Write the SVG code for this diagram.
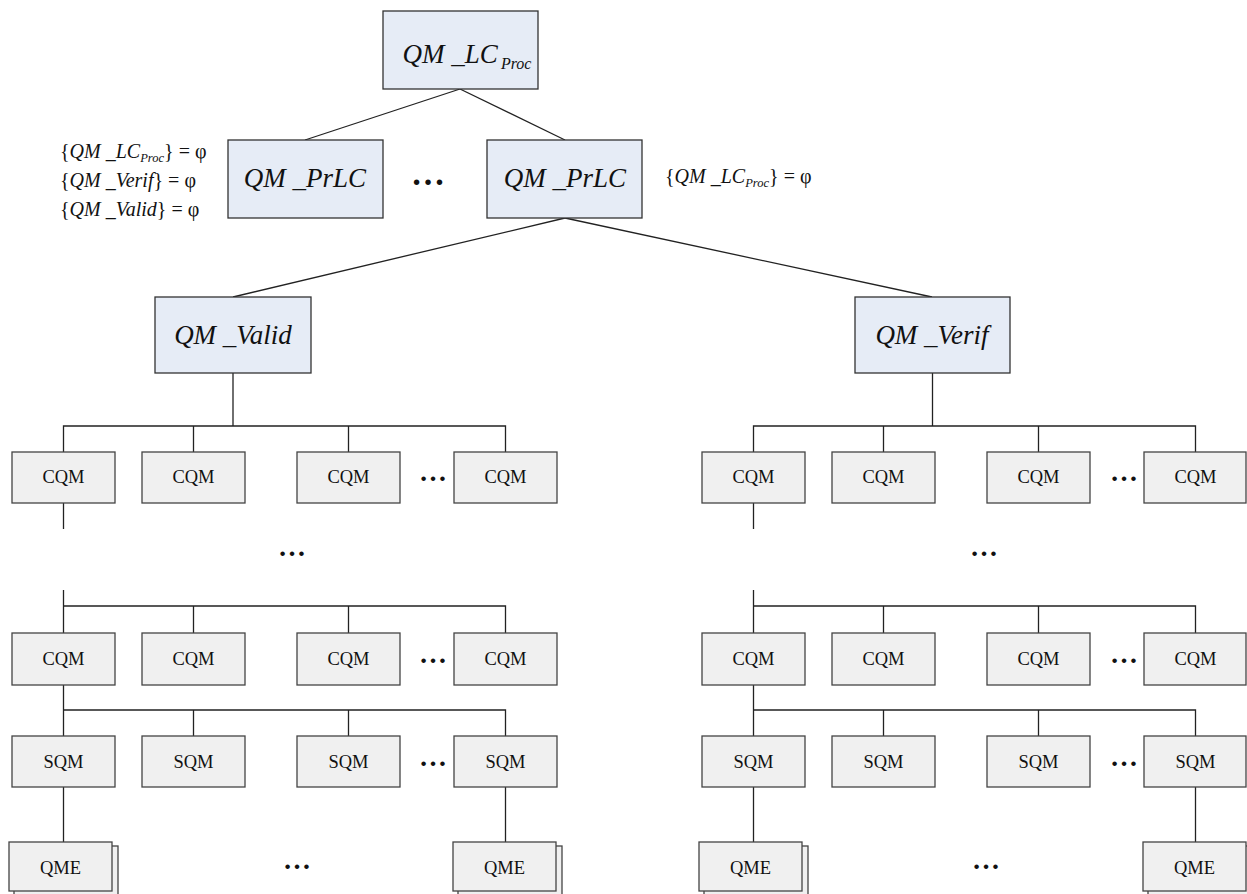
<svg xmlns="http://www.w3.org/2000/svg" width="1247" height="894" viewBox="0 0 1247 894">
<style>
.bg{fill:#ffffff}
.blue{fill:#E6ECF6;stroke:#333;stroke-width:1.3}
.gray{fill:#F0F0F0;stroke:#444;stroke-width:1.3}
.con line,.con path{stroke:#222;stroke-width:1.3;fill:none}
.math{font-family:"Liberation Serif",serif;font-style:italic;font-size:27px;fill:#111;text-anchor:middle}
.sub{font-size:16px}
.ann{font-family:"Liberation Serif",serif;font-size:20px;fill:#111}
.ann .i{font-style:italic}
.ann .s{font-style:italic;font-size:12.5px}
.lbl{font-family:"Liberation Serif",serif;font-size:18.5px;fill:#111;text-anchor:middle}
.dots{font-family:"Liberation Serif",serif;font-size:28px;font-weight:bold;fill:#111;text-anchor:middle}
</style>
<rect class="bg" width="1247" height="894"/>
<g id="connectors" class="con">
<line x1="460" y1="89" x2="305" y2="140"/>
<line x1="460" y1="89" x2="565" y2="140"/>
<line x1="565" y1="218" x2="233" y2="297"/>
<line x1="565" y1="218" x2="932" y2="297"/>
<line x1="233" y1="373" x2="233" y2="426"/>
<path d="M63.5 452V426H505.5V452M193.5 426V452M348.5 426V452"/>
<line x1="63.5" y1="503" x2="63.5" y2="529"/>
<path d="M63.5 590V633M63.5 606H505.5V633M193.5 606V633M348.5 606V633"/>
<path d="M63.5 685V736M63.5 710H505.5V736M193.5 710V736M348.5 710V736"/>
<line x1="63.5" y1="787" x2="63.5" y2="842"/>
<line x1="505.5" y1="787" x2="505.5" y2="842"/>
<line x1="932.5" y1="373" x2="932.5" y2="426"/>
<path d="M753.5 452V426H1195.5V452M883.5 426V452M1038.5 426V452"/>
<line x1="753.5" y1="503" x2="753.5" y2="529"/>
<path d="M753.5 590V633M753.5 606H1195.5V633M883.5 606V633M1038.5 606V633"/>
<path d="M753.5 685V736M753.5 710H1195.5V736M883.5 710V736M1038.5 710V736"/>
<line x1="753.5" y1="787" x2="753.5" y2="842"/>
<line x1="1195.5" y1="787" x2="1195.5" y2="842"/>
</g>
<g id="lc_proc"><rect class="blue" x="383" y="11" width="155" height="78"/><text class="math" x="467" y="63">QM _LC<tspan class="sub" dx="3" dy="6">Proc</tspan></text></g>
<g id="prlc_left"><rect class="blue" x="228" y="140" width="155" height="78"/><text class="math" x="305" y="187">QM _PrLC</text></g>
<g id="prlc_dots"><text class="dots" x="428" y="185" style="font-size:34px">…</text></g>
<g id="prlc_right"><rect class="blue" x="487" y="140" width="155" height="78"/><text class="math" x="565" y="187">QM _PrLC</text></g>
<g id="ann_left" class="ann">
<text x="60" y="158">{<tspan class="i">QM _LC</tspan><tspan class="s" dy="4">Proc</tspan><tspan dy="-4">} = φ</tspan></text>
<text x="60" y="187">{<tspan class="i">QM _Verif</tspan>} = φ</text>
<text x="60" y="216">{<tspan class="i">QM _Valid</tspan>} = φ</text>
</g>
<g id="ann_right" class="ann"><text x="665" y="183">{<tspan class="i">QM _LC</tspan><tspan class="s" dy="4">Proc</tspan><tspan dy="-4">} = φ</tspan></text></g>
<g id="valid"><rect class="blue" x="155" y="297" width="156" height="76"/><text class="math" x="233" y="344">QM _Valid</text></g>
<g id="verif"><rect class="blue" x="855" y="297" width="155" height="76"/><text class="math" x="932" y="344">QM _Verif</text></g>
<g id="cqm_l1_1"><rect class="gray" x="12" y="452" width="103" height="51"/><text class="lbl" x="63.5" y="483">CQM</text></g>
<g id="cqm_l1_2"><rect class="gray" x="142" y="452" width="103" height="51"/><text class="lbl" x="193.5" y="483">CQM</text></g>
<g id="cqm_l1_3"><rect class="gray" x="297" y="452" width="103" height="51"/><text class="lbl" x="348.5" y="483">CQM</text></g>
<g id="cqm_l1_4"><rect class="gray" x="454" y="452" width="103" height="51"/><text class="lbl" x="505.5" y="483">CQM</text></g>
<g id="cqm_r1_1"><rect class="gray" x="702" y="452" width="103" height="51"/><text class="lbl" x="753.5" y="483">CQM</text></g>
<g id="cqm_r1_2"><rect class="gray" x="832" y="452" width="103" height="51"/><text class="lbl" x="883.5" y="483">CQM</text></g>
<g id="cqm_r1_3"><rect class="gray" x="987" y="452" width="103" height="51"/><text class="lbl" x="1038.5" y="483">CQM</text></g>
<g id="cqm_r1_4"><rect class="gray" x="1144" y="452" width="102" height="51"/><text class="lbl" x="1195.5" y="483">CQM</text></g>
<g id="cqm_l2_1"><rect class="gray" x="12" y="633" width="103" height="52"/><text class="lbl" x="63.5" y="665">CQM</text></g>
<g id="cqm_l2_2"><rect class="gray" x="142" y="633" width="103" height="52"/><text class="lbl" x="193.5" y="665">CQM</text></g>
<g id="cqm_l2_3"><rect class="gray" x="297" y="633" width="103" height="52"/><text class="lbl" x="348.5" y="665">CQM</text></g>
<g id="cqm_l2_4"><rect class="gray" x="454" y="633" width="103" height="52"/><text class="lbl" x="505.5" y="665">CQM</text></g>
<g id="cqm_r2_1"><rect class="gray" x="702" y="633" width="103" height="52"/><text class="lbl" x="753.5" y="665">CQM</text></g>
<g id="cqm_r2_2"><rect class="gray" x="832" y="633" width="103" height="52"/><text class="lbl" x="883.5" y="665">CQM</text></g>
<g id="cqm_r2_3"><rect class="gray" x="987" y="633" width="103" height="52"/><text class="lbl" x="1038.5" y="665">CQM</text></g>
<g id="cqm_r2_4"><rect class="gray" x="1144" y="633" width="102" height="52"/><text class="lbl" x="1195.5" y="665">CQM</text></g>
<g id="sqm_l_1"><rect class="gray" x="12" y="736" width="103" height="51"/><text class="lbl" x="63.5" y="768">SQM</text></g>
<g id="sqm_l_2"><rect class="gray" x="142" y="736" width="103" height="51"/><text class="lbl" x="193.5" y="768">SQM</text></g>
<g id="sqm_l_3"><rect class="gray" x="297" y="736" width="103" height="51"/><text class="lbl" x="348.5" y="768">SQM</text></g>
<g id="sqm_l_4"><rect class="gray" x="454" y="736" width="103" height="51"/><text class="lbl" x="505.5" y="768">SQM</text></g>
<g id="sqm_r_1"><rect class="gray" x="702" y="736" width="103" height="51"/><text class="lbl" x="753.5" y="768">SQM</text></g>
<g id="sqm_r_2"><rect class="gray" x="832" y="736" width="103" height="51"/><text class="lbl" x="883.5" y="768">SQM</text></g>
<g id="sqm_r_3"><rect class="gray" x="987" y="736" width="103" height="51"/><text class="lbl" x="1038.5" y="768">SQM</text></g>
<g id="sqm_r_4"><rect class="gray" x="1144" y="736" width="102" height="51"/><text class="lbl" x="1195.5" y="768">SQM</text></g>
<g id="qme_l_1"><rect class="gray" x="14" y="846" width="104" height="52"/><rect class="gray" x="9" y="842" width="103" height="49"/><text class="lbl" x="60.5" y="874">QME</text></g>
<g id="qme_l_2"><rect class="gray" x="458" y="846" width="104" height="52"/><rect class="gray" x="453" y="842" width="103" height="49"/><text class="lbl" x="504.5" y="874">QME</text></g>
<g id="qme_r_1"><rect class="gray" x="704" y="846" width="104" height="52"/><rect class="gray" x="699" y="842" width="103" height="49"/><text class="lbl" x="750.5" y="874">QME</text></g>
<g id="qme_r_2"><rect class="gray" x="1148" y="846" width="104" height="52"/><rect class="gray" x="1143" y="842" width="103" height="49"/><text class="lbl" x="1194.5" y="874">QME</text></g>
<g id="ellipses">
<text class="dots" x="433" y="481">…</text>
<text class="dots" x="1124" y="481">…</text>
<text class="dots" x="292" y="556">…</text>
<text class="dots" x="984" y="556">…</text>
<text class="dots" x="433" y="663">…</text>
<text class="dots" x="1124" y="663">…</text>
<text class="dots" x="433" y="766">…</text>
<text class="dots" x="1124" y="766">…</text>
<text class="dots" x="297" y="869">…</text>
<text class="dots" x="986" y="869">…</text>
</g>
</svg>
